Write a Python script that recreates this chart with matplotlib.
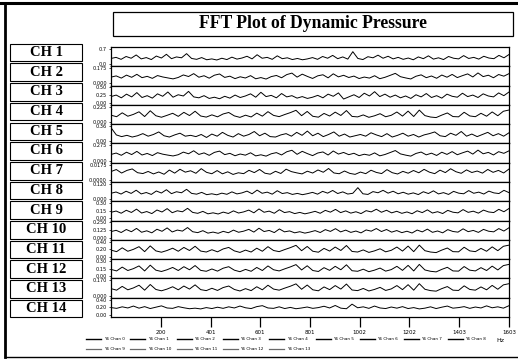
import numpy as np
import matplotlib
matplotlib.use("Agg")
import matplotlib.pyplot as plt
from matplotlib.patches import Rectangle
from matplotlib.lines import Line2D

# --- data ---
title = "FFT Plot of Dynamic Pressure"
channel_names = ["CH 1", "CH 2", "CH 3", "CH 4", "CH 5", "CH 6", "CH 7",
                 "CH 8", "CH 9", "CH 10", "CH 11", "CH 12", "CH 13", "CH 14"]
legend_labels = ["Y6 Chan %d" % i for i in range(14)]
freq_max = 1603
xtick_pos = [200, 401, 601, 801, 1002, 1202, 1403, 1603]
xtick_labels = ["200", "401", "601", "801", "1002", "1202", "1403", "1603"]

# y tick values per strip (bottom .. top)
yticks = [
    [0.0, 0.7],
    [0.000, 0.175],
    [0.00, 0.25, 0.50],
    [0.000, 0.225],
    [0.00, 0.36],
    [0.000, 0.275],
    [0.0000, 0.0175],
    [0.000, 0.120],
    [0.00, 0.15, 0.30],
    [0.000, 0.125, 0.250],
    [0.00, 0.20, 0.40],
    [0.00, 0.15, 0.30],
    [0.000, 0.170],
    [0.00, 0.20, 0.40],
]
ytick_fmt = ["%.1f", "%.3f", "%.2f", "%.3f", "%.2f", "%.3f", "%.4f",
             "%.3f", "%.2f", "%.3f", "%.2f", "%.2f", "%.3f", "%.2f"]

ch1 = [0.26,0.31,0.22,0.35,0.27,0.42,0.24,0.30,0.21,0.37,0.28,0.45,0.25,0.33,0.29,0.48,0.26,0.22,0.30,0.20,0.24,0.19,0.27,0.21,0.32,0.23,0.28,0.36,0.24,0.43,0.27,0.31,0.22,0.38,0.25,0.29,0.21,0.26,0.20,0.24,0.30,0.22,0.35,0.27,0.40,0.25,0.33,0.23,0.57,0.26,0.21,0.34,0.29,0.41,0.27,0.36,0.24,0.31,0.22,0.28,0.20,0.33,0.25,0.38,0.23,0.29,0.21,0.35,0.27,0.24,0.39,0.26,0.31,0.23,0.36,0.28,0.25,0.40,0.29,0.44]
ch2 = [0.072,0.086,0.061,0.095,0.070,0.104,0.066,0.081,0.058,0.090,0.074,0.063,0.052,0.068,0.097,0.079,0.112,0.071,0.088,0.060,0.094,0.108,0.069,0.083,0.055,0.076,0.062,0.089,0.053,0.067,0.050,0.078,0.091,0.065,0.101,0.118,0.072,0.106,0.080,0.057,0.087,0.099,0.064,0.110,0.075,0.093,0.068,0.084,0.056,0.073,0.061,0.088,0.054,0.070,0.092,0.115,0.077,0.063,0.051,0.082,0.098,0.066,0.085,0.059,0.096,0.071,0.103,0.067,0.089,0.109,0.074,0.120,0.078,0.094,0.065,0.102,0.083,0.112]
ch3 = [0.20,0.25,0.16,0.28,0.19,0.33,0.17,0.23,0.15,0.29,0.21,0.35,0.18,0.26,0.22,0.37,0.19,0.16,0.23,0.14,0.18,0.13,0.21,0.15,0.25,0.17,0.22,0.29,0.18,0.34,0.20,0.24,0.16,0.30,0.19,0.23,0.15,0.20,0.14,0.18,0.24,0.16,0.28,0.21,0.32,0.12,0.19,0.26,0.17,0.31,0.22,0.36,0.20,0.28,0.18,0.25,0.16,0.22,0.14,0.26,0.19,0.30,0.17,0.23,0.15,0.28,0.21,0.18,0.31,0.20,0.25,0.17,0.29,0.22,0.19,0.32,0.23,0.35]
ch4 = [0.10,0.078,0.135,0.085,0.112,0.150,0.080,0.165,0.092,0.070,0.098,0.128,0.083,0.142,0.095,0.158,0.088,0.072,0.105,0.076,0.118,0.140,0.090,0.068,0.100,0.074,0.130,0.086,0.152,0.097,0.079,0.110,0.138,0.172,0.093,0.155,0.084,0.071,0.126,0.088,0.145,0.096,0.168,0.082,0.075,0.104,0.069,0.091,0.122,0.077,0.099,0.147,0.087,0.160,0.081,0.175,0.094,0.073,0.065,0.101,0.133,0.080,0.076,0.143,0.089,0.078,0.128,0.085,0.148,0.092,0.158,0.176]
ch5 = [0.32,0.15,0.11,0.14,0.10,0.13,0.18,0.12,0.16,0.22,0.13,0.10,0.15,0.19,0.12,0.14,0.11,0.16,0.09,0.17,0.12,0.21,0.14,0.10,0.18,0.12,0.16,0.23,0.13,0.19,0.11,0.10,0.15,0.18,0.12,0.21,0.14,0.24,0.13,0.19,0.11,0.16,0.22,0.12,0.17,0.10,0.13,0.16,0.12,0.20,0.15,0.11,0.18,0.10,0.14,0.19,0.12,0.16,0.10,0.15,0.18,0.22,0.13,0.11,0.19,0.14,0.23,0.12,0.17,0.11,0.16,0.21,0.13,0.18,0.12,0.20]
ch6 = [0.11,0.135,0.095,0.150,0.108,0.165,0.100,0.128,0.090,0.142,0.115,0.098,0.083,0.105,0.152,0.122,0.176,0.110,0.138,0.094,0.147,0.170,0.107,0.130,0.087,0.118,0.097,0.140,0.084,0.104,0.080,0.122,0.143,0.101,0.158,0.185,0.112,0.166,0.125,0.089,0.136,0.155,0.100,0.172,0.117,0.146,0.106,0.131,0.088,0.114,0.095,0.138,0.085,0.109,0.144,0.180,0.120,0.098,0.080,0.128,0.153,0.103,0.133,0.092,0.150,0.111,0.161,0.105,0.139,0.170,0.116,0.188,0.122,0.147,0.101,0.160,0.130,0.175]
ch7 = [0.0095,0.0118,0.0078,0.0108,0.0125,0.0082,0.0072,0.0096,0.0068,0.0090,0.0064,0.0112,0.0077,0.0121,0.0088,0.0104,0.0075,0.0128,0.0086,0.0070,0.0106,0.0069,0.0092,0.0062,0.0081,0.0071,0.0109,0.0083,0.0119,0.0076,0.0065,0.0098,0.0073,0.0122,0.0094,0.0080,0.0068,0.0099,0.0078,0.0113,0.0087,0.0130,0.0079,0.0070,0.0101,0.0074,0.0063,0.0089,0.0071,0.0110,0.0085,0.0072,0.0117,0.0082,0.0067,0.0097,0.0076,0.0107,0.0081,0.0120,0.0088,0.0071,0.0111,0.0083,0.0127,0.0093,0.0075,0.0114,0.0084,0.0101,0.0077,0.0119,0.0086,0.0108,0.0079,0.0124]
ch8 = [0.046,0.056,0.040,0.062,0.045,0.070,0.041,0.052,0.037,0.064,0.048,0.074,0.043,0.058,0.050,0.077,0.045,0.039,0.053,0.035,0.042,0.034,0.047,0.038,0.057,0.041,0.049,0.063,0.042,0.071,0.046,0.055,0.039,0.066,0.044,0.051,0.037,0.045,0.035,0.043,0.053,0.039,0.061,0.047,0.068,0.044,0.057,0.040,0.046,0.090,0.042,0.037,0.059,0.050,0.069,0.047,0.062,0.042,0.054,0.039,0.049,0.036,0.058,0.044,0.065,0.041,0.051,0.037,0.061,0.047,0.042,0.067,0.046,0.055,0.040,0.063,0.049,0.044,0.069,0.051]
ch9 = [0.120,0.145,0.102,0.160,0.117,0.182,0.106,0.135,0.095,0.165,0.126,0.192,0.112,0.150,0.130,0.198,0.118,0.100,0.138,0.090,0.110,0.087,0.124,0.097,0.148,0.106,0.128,0.163,0.110,0.186,0.121,0.143,0.101,0.171,0.115,0.133,0.095,0.118,0.090,0.112,0.139,0.101,0.158,0.123,0.177,0.114,0.148,0.104,0.131,0.095,0.152,0.128,0.180,0.121,0.160,0.109,0.140,0.100,0.127,0.092,0.150,0.114,0.168,0.106,0.132,0.096,0.158,0.122,0.109,0.173,0.119,0.142,0.104,0.163,0.127,0.115,0.178,0.131,0.195]
ch10 = [0.100,0.121,0.085,0.134,0.098,0.152,0.089,0.113,0.080,0.138,0.105,0.160,0.094,0.125,0.108,0.166,0.098,0.083,0.115,0.075,0.092,0.072,0.104,0.081,0.124,0.089,0.107,0.136,0.092,0.155,0.101,0.119,0.084,0.143,0.096,0.111,0.080,0.098,0.075,0.093,0.116,0.085,0.132,0.103,0.148,0.095,0.124,0.087,0.109,0.079,0.127,0.107,0.150,0.101,0.134,0.091,0.117,0.083,0.106,0.077,0.125,0.095,0.140,0.088,0.110,0.080,0.132,0.102,0.091,0.145,0.099,0.119,0.087,0.136,0.106,0.096,0.149,0.109,0.163]
ch11 = [0.18,0.14,0.24,0.15,0.20,0.27,0.14,0.29,0.16,0.125,0.17,0.23,0.15,0.25,0.17,0.28,0.155,0.13,0.19,0.135,0.21,0.25,0.16,0.12,0.18,0.13,0.23,0.15,0.27,0.17,0.14,0.195,0.245,0.305,0.165,0.275,0.15,0.125,0.225,0.155,0.26,0.17,0.30,0.145,0.13,0.185,0.12,0.16,0.215,0.135,0.175,0.26,0.155,0.285,0.14,0.31,0.165,0.13,0.115,0.18,0.235,0.14,0.135,0.255,0.16,0.14,0.225,0.15,0.265,0.165,0.28,0.31]
ch12 = [0.135,0.105,0.180,0.113,0.150,0.203,0.105,0.218,0.120,0.094,0.128,0.173,0.113,0.188,0.128,0.210,0.116,0.098,0.143,0.101,0.158,0.188,0.120,0.090,0.135,0.098,0.173,0.113,0.203,0.128,0.105,0.146,0.184,0.229,0.124,0.206,0.113,0.094,0.169,0.116,0.195,0.128,0.225,0.109,0.098,0.139,0.090,0.120,0.161,0.101,0.131,0.195,0.116,0.214,0.105,0.233,0.124,0.098,0.086,0.135,0.176,0.105,0.101,0.191,0.120,0.105,0.169,0.113,0.199,0.124,0.210,0.233]
ch13 = [0.077,0.060,0.102,0.064,0.085,0.115,0.060,0.123,0.068,0.053,0.072,0.098,0.064,0.106,0.072,0.119,0.066,0.055,0.081,0.057,0.089,0.106,0.068,0.051,0.077,0.055,0.098,0.064,0.115,0.072,0.060,0.083,0.104,0.130,0.070,0.117,0.064,0.053,0.096,0.066,0.111,0.072,0.128,0.062,0.055,0.079,0.051,0.068,0.091,0.057,0.074,0.111,0.066,0.121,0.060,0.132,0.070,0.055,0.049,0.077,0.100,0.060,0.057,0.108,0.068,0.060,0.096,0.064,0.113,0.070,0.119,0.132]
ch14 = [0.19,0.17,0.21,0.18,0.23,0.175,0.215,0.165,0.20,0.235,0.18,0.17,0.215,0.185,0.16,0.175,0.155,0.19,0.165,0.20,0.17,0.21,0.18,0.23,0.185,0.165,0.215,0.24,0.18,0.17,0.21,0.165,0.195,0.16,0.18,0.205,0.17,0.19,0.225,0.18,0.245,0.175,0.16,0.28,0.185,0.21,0.17,0.23,0.18,0.165,0.205,0.175,0.215,0.165,0.19,0.155,0.175,0.21,0.165,0.20,0.23,0.175,0.19,0.215,0.17,0.205,0.18,0.235,0.185,0.21,0.175,0.24]
channels = [ch1, ch2, ch3, ch4, ch5, ch6, ch7, ch8, ch9, ch10, ch11, ch12, ch13, ch14]

# --- figure in pixel terms ---
W, H = 518, 362
def fx(x):
    return x / W
def fy(y):
    return 1 - y / H

fig = plt.figure(figsize=(W / 100, H / 100), dpi=100)
serif = ["Liberation Serif", "DejaVu Serif"]

# outer frame of the scanned page
fig.add_artist(Line2D([0, 1], [fy(3), fy(3)], color="black", lw=2.2))
fig.add_artist(Line2D([fx(5), fx(5)], [fy(3), fy(357)], color="black", lw=2.0))
fig.add_artist(Line2D([fx(5), 1], [fy(357), fy(357)], color="black", lw=1.0))

# title box
fig.add_artist(Rectangle((fx(113), fy(36)), fx(513) - fx(113), fy(12) - fy(36),
                         fill=False, ec="black", lw=0.9))
fig.text(fx(313), fy(24), title, ha="center", va="center",
         fontsize=12.7, fontweight="bold", family=serif)

# stacked strips
top_px, bot_px = 47, 317
gs = fig.add_gridspec(14, 1, left=fx(111), right=fx(509),
                      top=fy(top_px), bottom=fy(bot_px), hspace=0)
lines = []
for i, vals in enumerate(channels):
    ax = fig.add_subplot(gs[i, 0])
    f = np.linspace(0, freq_max, len(vals))
    ln, = ax.plot(f, vals, color="black", lw=0.7, label=legend_labels[i])
    lines.append(ln)
    top = yticks[i][-1]
    ax.set_xlim(0, freq_max)
    ax.set_ylim(-0.14 * top, 1.12 * top)
    ax.set_yticks(yticks[i])
    ax.set_yticklabels([ytick_fmt[i] % v for v in yticks[i]])
    ax.tick_params(axis="y", labelsize=3.6, length=1.5, width=0.5, pad=1.5)
    for s in ax.spines.values():
        s.set_linewidth(0.9)
    if i < 13:
        ax.set_xticks([])
    else:
        ax.set_xticks(xtick_pos)
        ax.set_xticklabels(xtick_labels)
        ax.tick_params(axis="x", labelsize=4, length=7, width=0.9, pad=2.5)

    # channel label box on the left
    cy = 52.5 + 19.7 * i
    fig.add_artist(Rectangle((fx(10), fy(cy + 8.8)), fx(82) - fx(10), 17.6 / H,
                             fill=False, ec="black", lw=0.8))
    fig.text(fx(46), fy(cy), channel_names[i], ha="center", va="center",
             fontsize=10.5, fontweight="bold", family=serif)

fig.text(fx(500), fy(340), "Hz", ha="center", va="center", fontsize=4.5)

# legend fills column-wise; order handles so rows read Chan 0-8, then 9-13
order = [0, 9, 1, 10, 2, 11, 3, 12, 4, 13, 5, 6, 7, 8]
leg = fig.legend(handles=[lines[k] for k in order],
                 labels=[legend_labels[k] for k in order], ncol=9,
                 loc="upper left", bbox_to_anchor=(fx(84), fy(335)),
                 frameon=False, fontsize=3.0, handlelength=3.6,
                 handletextpad=0.6, columnspacing=1.35, labelspacing=1.5,
                 borderpad=0)
for hl, k in zip(leg.get_lines(), order):
    hl.set_linewidth(1.0 if k < 9 else 0.9)
    if k >= 9:
        hl.set_color("dimgray")

fig.savefig("out.png", dpi=100)
